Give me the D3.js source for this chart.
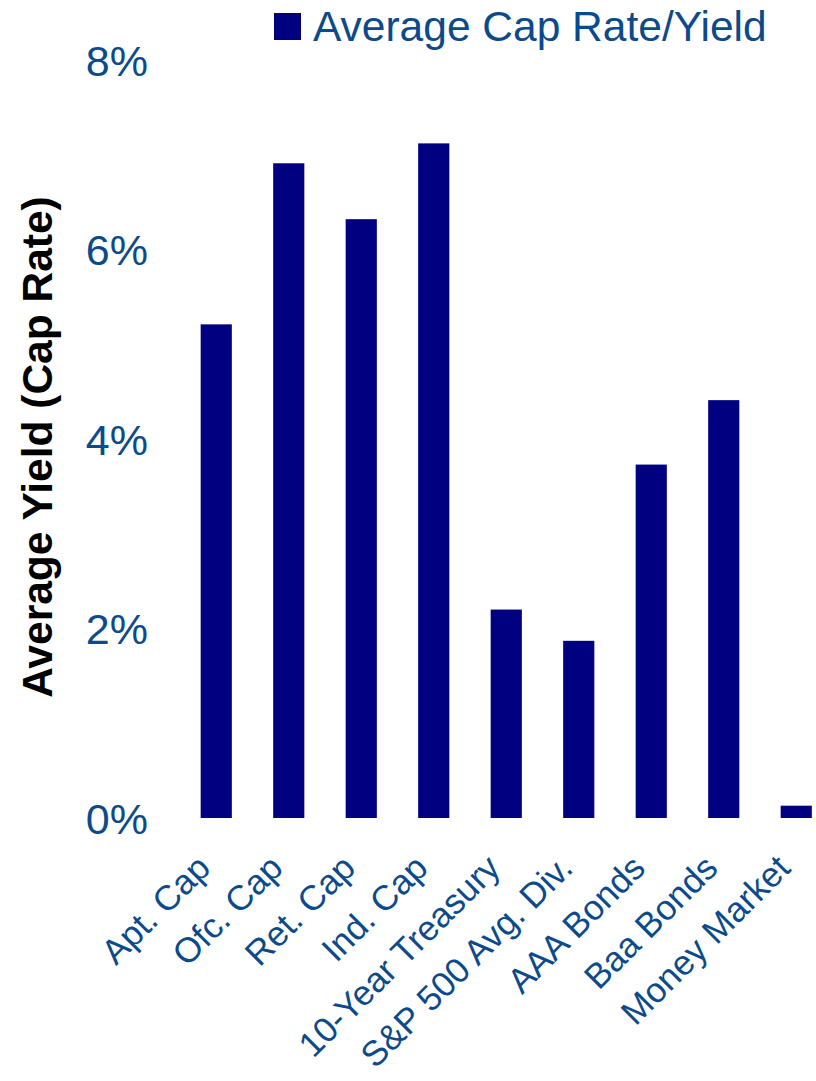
<!DOCTYPE html>
<html>
<head>
<meta charset="utf-8">
<script src="https://cdn.jsdelivr.net/npm/d3@7"></script>
<style>
  html, body { margin: 0; padding: 0; background: #fff; }
  svg { display: block; }
</style>
</head>
<body>
<div id="chart"></div>
<script>
const categories = ["Apt. Cap", "Ofc. Cap", "Ret. Cap", "Ind. Cap", "10-Year Treasury", "S&P 500 Avg. Div.", "AAA Bonds", "Baa Bonds", "Money Market"];
const values = [5.21, 6.91, 6.32, 7.12, 2.20, 1.87, 3.73, 4.41, 0.13];
const yTicks = [0, 2, 4, 6, 8];
const seriesName = "Average Cap Rate/Yield";
const yTitle = "Average Yield (Cap Rate)";

const W = 816, H = 1081;
const font = "'Liberation Sans', Arial, sans-serif";
const textBlue = "#0b4a8b";
const barColor = "#000080";

const svg = d3.select("#chart").append("svg").attr("width", W).attr("height", H);

const x = d3.scaleBand().domain(categories).range([180, 832.5]).paddingInner(0.57).paddingOuter(0.285);
const y = d3.scaleLinear().domain([0, 8]).range([818, 60]);

// bars
svg.append("g").selectAll("rect").data(values).join("rect")
  .attr("x", (d, i) => x(categories[i]))
  .attr("width", x.bandwidth())
  .attr("y", d => y(d))
  .attr("height", d => y(0) - y(d))
  .attr("fill", barColor);

// y axis (labels only)
const yAxis = d3.axisLeft(y).tickValues(yTicks).tickFormat(d => d + "%").tickSize(0).tickPadding(0);
const gy = svg.append("g").attr("transform", "translate(148,0)").call(yAxis);
gy.select(".domain").remove();
gy.selectAll("text").attr("fill", textBlue).attr("font-family", font).attr("font-size", "43px").attr("dy", "0.36em");

// x axis labels
const xAxis = d3.axisBottom(x).tickSize(0).tickPadding(0);
const gx = svg.append("g").attr("transform", "translate(0,818)").call(xAxis);
gx.select(".domain").remove();
gx.selectAll(".tick text")
  .attr("fill", textBlue).attr("font-family", font).attr("font-size", "35px")
  .attr("text-anchor", "end")
  .attr("x", 0).attr("y", 0).attr("dy", 0)
  .attr("transform", "translate(-4,52) rotate(-45)");

// y title
svg.append("text")
  .attr("transform", "translate(52,447) rotate(-90)")
  .attr("text-anchor", "middle")
  .attr("font-family", font).attr("font-weight", "bold").attr("font-size", "42.5px")
  .attr("fill", "#000")
  .text(yTitle);

// legend
const lg = svg.append("g");
lg.append("rect").attr("x", 274).attr("y", 13).attr("width", 27).attr("height", 27).attr("fill", barColor);
lg.append("text").attr("x", 313).attr("y", 41)
  .attr("font-family", font).attr("font-size", "42.5px").attr("fill", textBlue)
  .text(seriesName);
</script>
</body>
</html>
